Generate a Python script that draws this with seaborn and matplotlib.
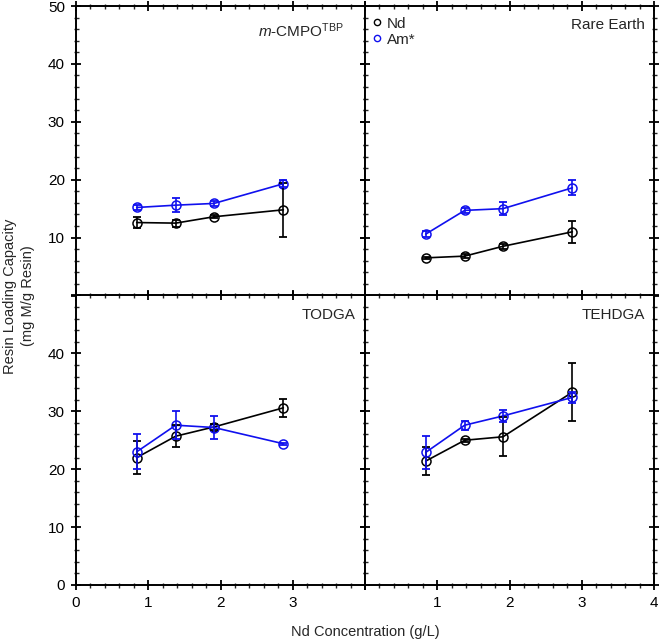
import matplotlib
matplotlib.use("Agg")
import matplotlib.pyplot as plt
import seaborn as sns
import pandas as pd
from matplotlib.lines import Line2D
from matplotlib.ticker import MultipleLocator

# ---------------- data ----------------
x_conc = [0.84, 1.38, 1.91, 2.87]

cmpo_nd = [12.6, 12.5, 13.6, 14.8]
cmpo_nd_err = [1.0, 0.6, 0.3, 4.7]
cmpo_am = [15.2, 15.6, 15.9, 19.3]
cmpo_am_err = [0.4, 1.2, 0.4, 0.6]

re_nd = [6.5, 6.8, 8.5, 11.0]
re_nd_err = [0.2, 0.3, 0.4, 1.9]
re_am = [10.6, 14.7, 15.0, 18.6]
re_am_err = [0.5, 0.4, 1.1, 1.3]

todga_nd = [22.0, 25.7, 27.3, 30.6]
todga_nd_err = [2.8, 1.9, 0.5, 1.5]
todga_am = [23.0, 27.6, 27.2, 24.4]
todga_am_err = [3.0, 2.4, 2.0, 0.2]

tehdga_nd = [21.4, 25.0, 25.6, 33.3]
tehdga_nd_err = [2.4, 0.3, 3.4, 5.0]
tehdga_am = [22.9, 27.6, 29.2, 32.4]
tehdga_am_err = [2.8, 0.8, 1.0, 0.9]

panel_titles = [r"$\mathit{m}$-CMPO$^{\mathrm{TBP}}$", "Rare Earth", "TODGA", "TEHDGA"]
series_names = ["Nd", "Am*"]
series_colors = {"Nd": "#000000", "Am*": "#1010ee"}

xtick_vals = [0, 1, 2, 3, 4]
ytick_vals = [0, 10, 20, 30, 40, 50]
xlabels_left = ["0", "1", "2", "3", ""]
xlabels_right = ["", "1", "2", "3", "4"]
ylabels_top = ["", "10", "20", "30", "40", "50"]
ylabels_bottom = ["0", "10", "20", "30", "40", ""]

panels = [
    (cmpo_nd, cmpo_nd_err, cmpo_am, cmpo_am_err),
    (re_nd, re_nd_err, re_am, re_am_err),
    (todga_nd, todga_nd_err, todga_am, todga_am_err),
    (tehdga_nd, tehdga_nd_err, tehdga_am, tehdga_am_err),
]

# ---------------- style ----------------
sns.set_style("ticks")
plt.rcParams["font.family"] = ["Liberation Sans", "DejaVu Sans"]
plt.rcParams["mathtext.fontset"] = "custom"
plt.rcParams["mathtext.rm"] = "Liberation Sans"
plt.rcParams["mathtext.it"] = "Liberation Sans:italic"
plt.rcParams["mathtext.bf"] = "Liberation Sans:bold"

W, H = 660, 641
fig, axes = plt.subplots(2, 2, figsize=(W / 100, H / 100), dpi=100,
                         gridspec_kw=dict(wspace=0, hspace=0))
fig.subplots_adjust(left=76 / W, right=654 / W, top=1 - 6 / H, bottom=1 - 585 / H)

for i, ax in enumerate(axes.flat):
    nd, nd_err, am, am_err = panels[i]
    df = pd.DataFrame({
        "x": x_conc * 2,
        "y": nd + am,
        "series": ["Nd"] * 4 + ["Am*"] * 4,
    })
    sns.lineplot(data=df, x="x", y="y", hue="series", palette=series_colors,
                 hue_order=series_names, marker="o", markersize=6.5,
                 markerfacecolor="none", markeredgewidth=1.1, linewidth=1.2,
                 legend=False, ax=ax, sort=False, estimator=None)
    for lines in ax.get_lines():
        lines.set_markeredgecolor(lines.get_color())
        lines.set_markerfacecolor("none")
    ax.errorbar(x_conc, nd, yerr=nd_err, fmt="none", ecolor=series_colors["Nd"],
                elinewidth=1.2, capsize=3.2, capthick=1.3, zorder=3)
    ax.errorbar(x_conc, am, yerr=am_err, fmt="none", ecolor=series_colors["Am*"],
                elinewidth=1.2, capsize=3.2, capthick=1.3, zorder=4)

    ax.set_xlim(0, 4)
    ax.set_ylim(0, 50)
    ax.set_xticks(xtick_vals)
    ax.set_yticks(ytick_vals)
    ax.xaxis.set_minor_locator(MultipleLocator(0.2))
    ax.yaxis.set_minor_locator(MultipleLocator(2))
    row, col = divmod(i, 2)
    if row == 1:
        ax.set_xticklabels(xlabels_left if col == 0 else xlabels_right)
    else:
        ax.set_xticklabels([])
    if col == 0:
        ax.set_yticklabels(ylabels_top if row == 0 else ylabels_bottom)
    else:
        ax.set_yticklabels([])
    ax.tick_params(which="major", direction="inout", length=7, width=1.3,
                   top=True, right=True, labelsize=11, colors="black")
    ax.tick_params(axis="x", which="major", pad=4.5)
    ax.tick_params(axis="y", which="major", pad=4.5)
    ax.tick_params(which="minor", direction="inout", length=3.6, width=1.0,
                   top=True, right=True)
    for s in ax.spines.values():
        s.set_linewidth(1.4)
        s.set_color("black")
    ax.set_xlabel("")
    ax.set_ylabel("")

    if i == 0:
        ax.text(0.925, 0.948, panel_titles[i], transform=ax.transAxes,
                ha="right", va="top", fontsize=11)
    else:
        ax.text(0.968, 0.958, panel_titles[i], transform=ax.transAxes,
                ha="right", va="top", fontsize=11)

# legend in the top-right panel
handles = [Line2D([], [], linestyle="none", marker="o", markersize=4.5,
                  markerfacecolor="none", markeredgecolor=series_colors[n],
                  markeredgewidth=1.0) for n in series_names]
axes[0, 1].legend(handles, series_names, loc="upper left", bbox_to_anchor=(0.0, 0.99),
                  frameon=False, fontsize=11, handlelength=0.6, handletextpad=0.35,
                  labelspacing=0.15, borderaxespad=0.3, borderpad=0.2)

fig.text(19 / W, 1 - 296 / H, "Resin Loading Capacity\n(mg M/g Resin)",
         rotation=90, ha="center", va="center", fontsize=10.5, linespacing=1.3)
fig.text(365 / W, 1 - 632 / H, "Nd Concentration (g/L)",
         ha="center", va="center", fontsize=10.5)

fig.savefig("out.png", dpi=100)
